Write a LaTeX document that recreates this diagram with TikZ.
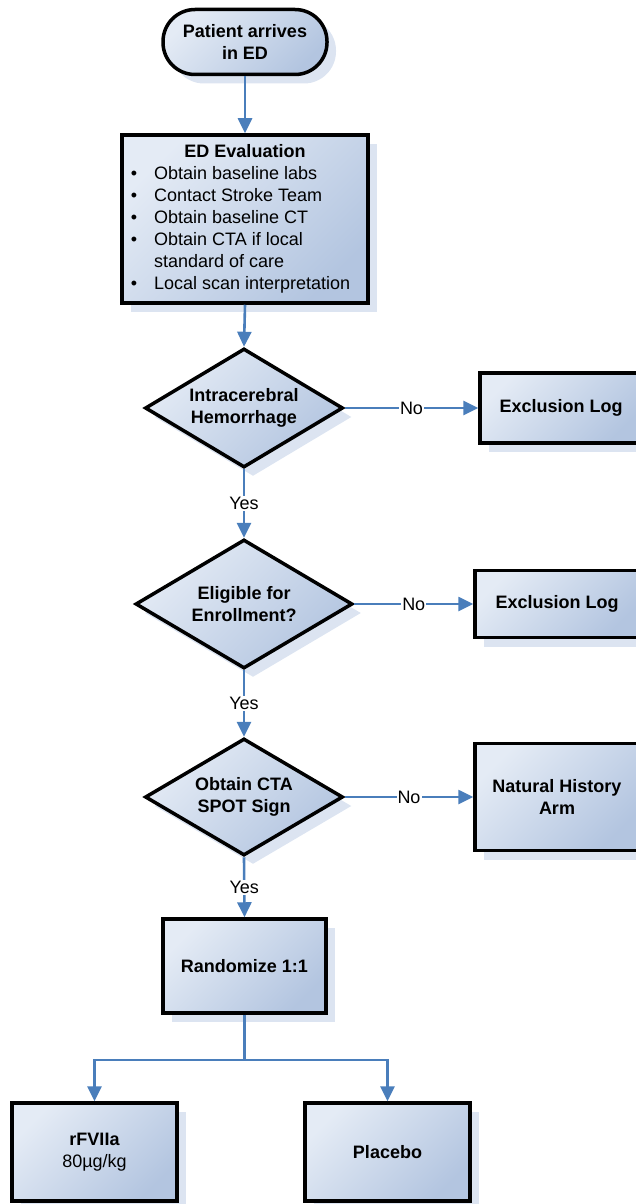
\documentclass[tikz,border=0pt]{standalone}
\usepackage{fontspec}
\setmainfont{Liberation Sans}
\usetikzlibrary{arrows.meta,shapes.geometric,shadows}
\definecolor{flowblue}{HTML}{4A7EBB}
\definecolor{boxlight}{HTML}{E4EBF5}
\definecolor{boxdark}{HTML}{B3C5E0}
\definecolor{shadowblue}{HTML}{DCE4F1}

\begin{document}
\begin{tikzpicture}[x=1pt, y=-1pt,
  font=\fontsize{18}{22}\selectfont,
  block/.style={draw=black, line width=3.5pt, top color=boxlight, bottom color=boxdark,
    shading angle=45, align=center, inner sep=2pt,
    font=\fontsize{18}{22}\selectfont\bfseries,
    drop shadow={shadow xshift=9pt, shadow yshift=-9pt, fill=shadowblue, opacity=1}},
  terminal/.style={block, rounded corners=32pt},
  decision/.style={block, diamond, aspect=1.66, inner sep=0pt},
  lbl/.style={fill=white, inner sep=1pt},
  flow/.style={draw=flowblue, line width=2.6pt, -{Triangle[length=15pt, width=14pt]}}]

% page frame, boxes on the right run off the edge
\useasboundingbox (0,0) rectangle (636,1204);
\clip (0,0) rectangle (636,1204);

% Main column
\node[terminal, minimum width=164, minimum height=65] (arrive) at (245,42)
  {Patient arrives\\in ED};

\node[block, minimum width=246, minimum height=168, font=\fontsize{18}{22}\selectfont] (eval) at (245,219) {%
  \begin{tabular}{@{}l@{\hspace{17pt}}l@{\hspace{9pt}}}
    \multicolumn{2}{@{}c@{}}{\bfseries ED Evaluation}\\
    \textbullet & Obtain baseline labs\\
    \textbullet & Contact Stroke Team\\
    \textbullet & Obtain baseline CT\\
    \textbullet & Obtain CTA if local\\
                & standard of care\\
    \textbullet & Local scan interpretation
  \end{tabular}};

\node[decision, minimum width=198, minimum height=119] (icH) at (244,408)
  {Intracerebral\\Hemorrhage};
\node[decision, minimum width=217, minimum height=129] (elig) at (244,604)
  {Eligible for\\Enrollment?};
\node[decision, minimum width=198, minimum height=117] (spot) at (244,797)
  {Obtain CTA\\SPOT Sign};

\node[block, minimum width=163, minimum height=94] (rand) at (244.5,966) {Randomize 1:1};

% Right column (cut by the page edge)
\node[block, minimum width=162, minimum height=70] (excl1) at (561,408) {Exclusion Log};
\node[block, minimum width=164, minimum height=67] (excl2) at (557,604) {Exclusion Log};
\node[block, minimum width=164, minimum height=107] (natural) at (557,797) {Natural History\\Arm};

% Treatment arms
\node[block, minimum width=165, minimum height=98] (rfvii) at (94.5,1152)
  {rFVIIa\\\mdseries 80µg/kg};
\node[block, minimum width=165, minimum height=98] (placebo) at (387.5,1152) {Placebo};
\coordinate (split) at (244.5,1060);

% Connectors
\draw[flow] (arrive.south) -- (eval.north);
\draw[flow] (eval.south) -- (icH.north);
\draw[flow] (icH.east) -- node[lbl] {No} (excl1.west);
\draw[flow] (icH.south) -- node[lbl] {Yes} (elig.north);
\draw[flow] (elig.east) -- node[lbl] {No} (excl2.west);
\draw[flow] (elig.south) -- node[lbl] {Yes} (spot.north);
\draw[flow] (spot.east) -- node[lbl] {No} (natural.west);
\draw[flow] (spot.south) -- node[lbl] {Yes} (rand.north);
\draw[flow] (rand.south) -- (split) -| (rfvii.north);
\draw[flow] (split) -| (placebo.north);

\end{tikzpicture}
\end{document}
